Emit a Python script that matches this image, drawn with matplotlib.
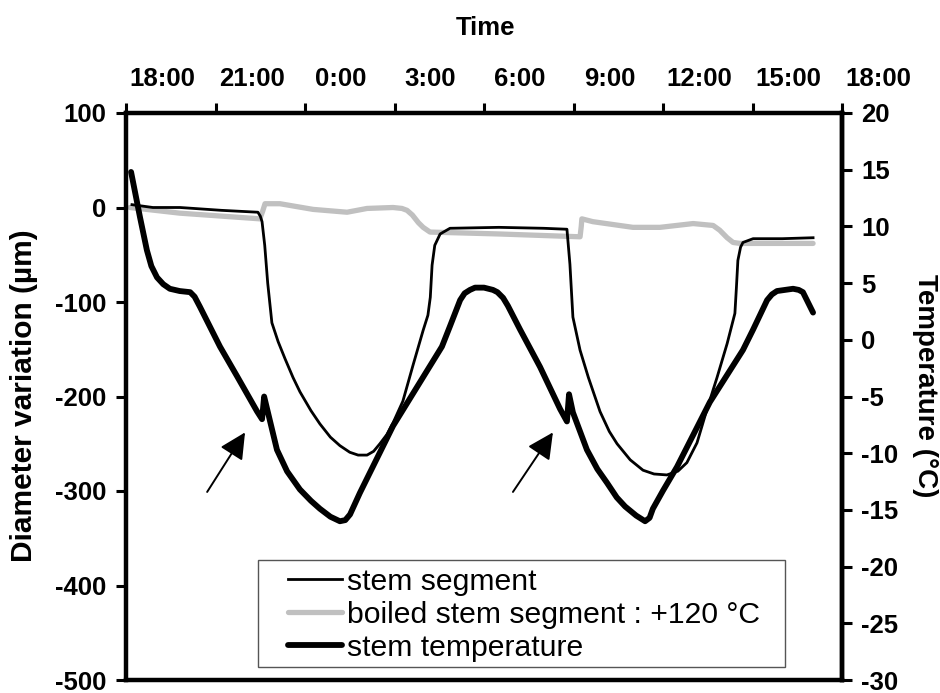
import matplotlib
matplotlib.use("Agg")
import matplotlib.pyplot as plt
from matplotlib.transforms import ScaledTranslation
from matplotlib.patches import Rectangle
from matplotlib.font_manager import FontProperties

# ---- data (hours since 18:00) ----
stem_h = [0.20, 0.90, 1.81, 3.20, 4.42, 4.50, 4.56, 4.65, 4.75, 4.89, 5.10, 5.33, 5.60, 5.83,
          6.20, 6.50, 6.85, 7.17, 7.50, 7.78, 8.08, 8.30, 8.51, 8.75, 8.95, 9.28, 9.62,
          9.96, 10.12, 10.20, 10.26, 10.35, 10.53, 10.86, 12.50, 14.00, 14.78,
          14.88, 14.98, 15.22, 15.50, 15.89, 16.20, 16.46, 16.90, 17.33, 17.70, 18.13,
          18.50, 18.80, 19.14, 19.47, 19.81, 20.15, 20.41, 20.46, 20.51, 20.60, 20.68,
          21.02, 22.00, 23.03]
stem_d = [3, 0, 0, -3, -5, -9, -15, -40, -80, -122, -142, -160, -180, -195,
          -215, -229, -243, -252, -259, -262, -262, -258, -250, -240, -228, -205, -167,
          -130, -114, -95, -61, -40, -28, -22, -21, -22, -23,
          -60, -116, -151, -180, -216, -237, -250, -267, -278, -282, -283,
          -279, -270, -249, -214, -180, -144, -112, -85, -56, -42, -37,
          -33, -33, -32]

boiled_h = [0.13, 1.81, 4.49, 4.58, 4.66, 5.16, 6.27, 7.41, 8.08, 8.95, 9.25, 9.42, 9.60,
            9.80, 9.96, 10.19, 12.50, 15.22, 15.26, 15.28, 15.65, 16.99, 17.90, 19.01,
            19.68, 19.90, 20.15, 20.35, 20.58, 23.03]
boiled_d = [0, -6, -12, -4, 4, 4, -2, -5, -1, 0, -1, -3, -8,
            -16, -21, -26, -28, -31, -20, -12, -15, -21, -21, -17,
            -19, -24, -32, -37, -38, -38]

temp_h = [0.17, 0.47, 0.70, 0.85, 1.04, 1.25, 1.47, 1.80, 2.15, 2.30, 2.48, 3.15, 3.72,
          4.39, 4.56, 4.63, 4.73, 5.06, 5.40, 5.83, 6.20, 6.50, 6.85, 7.17, 7.35, 7.51,
          7.84, 8.95, 10.59, 10.86, 11.20, 11.35, 11.53, 11.70, 12.00, 12.30, 12.45,
          12.64, 12.80, 13.21, 13.88, 14.55, 14.78, 14.85, 14.98, 15.45, 15.80, 16.12,
          16.45, 16.73, 17.10, 17.40, 17.55, 17.66, 18.00, 18.47, 19.57, 20.68, 21.02,
          21.49, 21.65, 21.82, 22.36, 22.55, 22.69, 23.03]
temp_T = [14.8, 10.8, 7.9, 6.5, 5.5, 4.9, 4.5, 4.3, 4.2, 3.8, 2.9, -0.6, -3.2,
          -6.3, -7.0, -5.0, -6.1, -9.7, -11.6, -13.2, -14.2, -14.9, -15.6, -16.0, -15.9, -15.4,
          -13.5, -7.6, -0.6, 1.2, 3.5, 4.1, 4.4, 4.6, 4.6, 4.4, 4.2,
          3.7, 3.0, 0.9, -2.4, -6.1, -7.2, -4.8, -6.4, -9.7, -11.4, -12.6,
          -13.9, -14.7, -15.5, -16.0, -15.7, -14.9, -13.3, -11.2, -5.5, -0.9, 0.9,
          3.5, 4.0, 4.3, 4.5, 4.4, 4.2, 2.4]

time_ticks = [0, 3, 6, 9, 12, 15, 18, 21, 24]
time_labels = ["18:00", "21:00", "0:00", "3:00", "6:00", "9:00", "12:00", "15:00", "18:00"]
left_ticks = [100, 0, -100, -200, -300, -400, -500]
right_ticks = [20, 15, 10, 5, 0, -5, -10, -15, -20, -25, -30]

FONT = "Liberation Sans"
plt.rcParams['font.family'] = [FONT, 'DejaVu Sans']

fig = plt.figure(figsize=(9.4, 6.93), dpi=100)
W, H = 940, 693
ax = fig.add_axes([126 / W, 1 - 680 / H, (842 - 126) / W, (680 - 113) / H])
ax2 = ax.twinx()

ax.plot(stem_h, stem_d, color='black', lw=2.0, label='stem segment', zorder=3)
ax.plot(boiled_h, boiled_d, color='#c0c0c0', lw=3.8, label='boiled stem segment : +120 °C',
        zorder=2, solid_capstyle='round', solid_joinstyle='round')
lt, = ax2.plot(temp_h, temp_T, color='black', lw=4.2, label='stem temperature',
               solid_capstyle='round', solid_joinstyle='round')

ax.set_xlim(0, 24)
ax.set_ylim(-500, 100)
ax2.set_ylim(-30, 20)

for a in (ax, ax2):
    for s in a.spines.values():
        s.set_linewidth(3.2)
ax2.spines['left'].set_visible(False)
ax2.spines['top'].set_visible(False)
ax2.spines['bottom'].set_visible(False)

tick_font = dict(fontsize=18.5, fontweight='bold', family=FONT)

ax.xaxis.set_ticks_position('top')
ax.set_xticks(time_ticks)
ax.set_xticklabels(time_labels, **tick_font)
ax.tick_params(axis='x', which='major', direction='out', length=7, width=2.2, pad=9,
               top=True, bottom=False, labeltop=True, labelbottom=False)
offset = ScaledTranslation(36 / 100, 0, fig.dpi_scale_trans)
for tk in ax.xaxis.get_major_ticks():
    tk.label2.set_transform(tk.label2.get_transform() + offset)

ax.set_yticks(left_ticks)
ax.set_yticklabels([str(v) for v in left_ticks], **tick_font)
ax.tick_params(axis='y', direction='out', length=7, width=2.2, pad=7)

ax2.set_yticks(right_ticks)
ax2.set_yticklabels([str(v) for v in right_ticks], **tick_font)
ax2.tick_params(axis='y', direction='out', length=7, width=2.2, pad=7)

fig.text(485 / W, 1 - 28 / H, "Time", ha='center', va='center', fontsize=18.5,
         fontweight='bold', family=FONT)
fig.text(24 / W, 1 - 396 / H, "Diameter variation (µm)", ha='center', va='center',
         rotation=90, fontsize=21.5, fontweight='bold', family=FONT)
fig.text(925 / W, 1 - 386 / H, "Temperature (°C)", ha='center', va='center',
         rotation=-90, fontsize=20, fontweight='bold', family=FONT)

arrow_props = dict(arrowstyle='-|>,head_length=0.8,head_width=0.4', color='black',
                   lw=1.4, mutation_scale=20, shrinkA=0, shrinkB=0)
ax.annotate('', xy=(3.99, -238), xytext=(2.72, -301), arrowprops=arrow_props)
ax.annotate('', xy=(14.31, -238), xytext=(12.97, -301), arrowprops=arrow_props)

# legend
h1, l1 = ax.get_legend_handles_labels()
handles = h1 + [lt]
labels = l1 + ['stem temperature']
fig.legend(handles, labels, loc='upper left', bbox_to_anchor=(288 / W, 1 - 568 / H),
           frameon=False, borderpad=0, borderaxespad=0, handlelength=1.8,
           handletextpad=0.16, labelspacing=0.16,
           prop=FontProperties(family=FONT, size=21.7))
fig.patches.append(Rectangle((258 / W, 1 - 667 / H), (785 - 258) / W, (667 - 560) / H,
                             transform=fig.transFigure, fill=False, edgecolor='#555555',
                             lw=1.0, zorder=5))

fig.savefig("out.png", dpi=100)
